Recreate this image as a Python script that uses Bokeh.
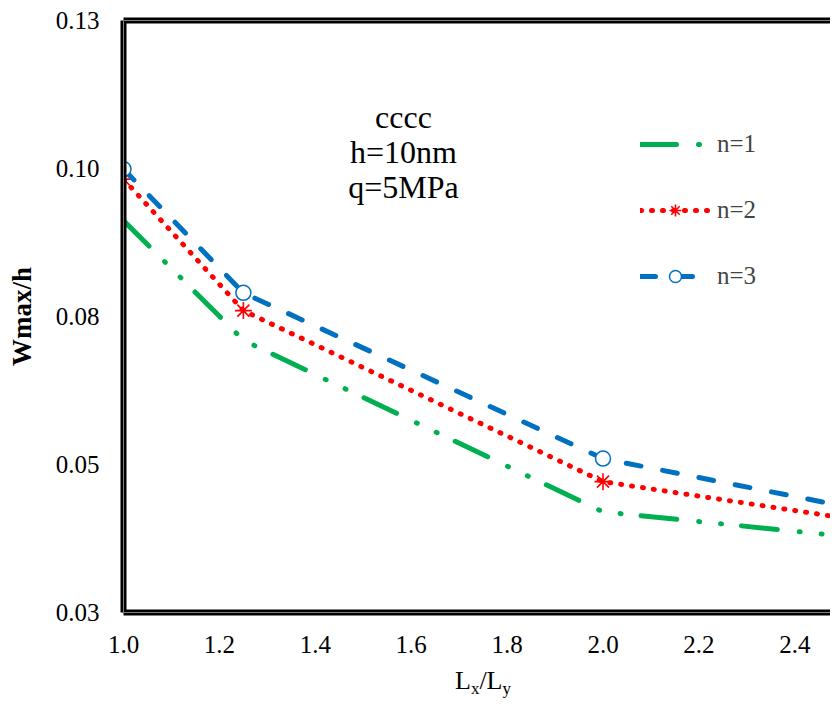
from bokeh.plotting import figure
from bokeh.layouts import column
from bokeh.models import (LinearAxis, FixedTicker, Span, Legend, LegendItem, Label,
                          Range1d, NumeralTickFormatter, Div)
from bokeh.embed import file_html
from bokeh.resources import INLINE

# ---- data ----
ratio = [1.0, 1.25, 2.0, 2.5]
w_n1 = [0.0962, 0.0760, 0.0470, 0.0429]
w_n2 = [0.1032, 0.0810, 0.0521, 0.0460]
w_n3 = [0.1049, 0.0840, 0.0560, 0.0480]
series_names = ["n=1", "n=2", "n=3"]

x_ticks = [1.0, 1.2, 1.4, 1.6, 1.8, 2.0, 2.2, 2.4]
y_ticks = [0.03, 0.055, 0.08, 0.105, 0.13]
y_tick_labels = ["0.03", "0.05", "0.08", "0.10", "0.13"]
note_lines = ["cccc", "h=10nm", "q=5MPa"]
x_title = ("L", "x", "/L", "y")

FONT = "Liberation Serif"
GREEN, RED, BLUE = "#00B050", "#FF0000", "#0070C0"

W, H = 830, 662
BL, BR, BT, BB = 123, 0, 20, 50
FW, FH = W - BL - BR, H - BT - BB
X0 = 1.0
X1 = X0 + FW / 479.5          # same horizontal scale as the reference
Y0, Y1 = 0.03, 0.13

def px2x(px):  # figure pixel -> data x (text placement only)
    return X0 + (px - BL) / FW * (X1 - X0)

def py2y(py):
    return Y0 + (BT + FH - py) / FH * (Y1 - Y0)

def ry(ref_y):  # reference pixel row (inside frame) -> this figure's row
    return BT + (ref_y - 21.7) * FH / 605.3

p = figure(width=W, height=H, x_range=Range1d(X0, X1), y_range=Range1d(Y0, Y1),
           output_backend="svg", toolbar_location=None,
           min_border_left=BL, min_border_right=BR, min_border_top=BT, min_border_bottom=BB)
p.outline_line_color = None
p.grid.visible = False
p.background_fill_color = "white"
p.border_fill_color = "white"

for ax in (p.xaxis[0], p.yaxis[0]):
    ax.axis_line_width = 6
    ax.axis_line_color = "black"
    ax.major_tick_line_color = None
    ax.minor_tick_line_color = None
    ax.major_tick_out = 0
    ax.major_tick_in = 0
    ax.major_label_text_font = FONT
    ax.major_label_text_font_size = "25px"
    ax.major_label_text_color = "black"

p.xaxis.ticker = FixedTicker(ticks=x_ticks)
p.xaxis.formatter = NumeralTickFormatter(format="0.0")
p.xaxis.major_label_standoff = 23

p.yaxis.ticker = FixedTicker(ticks=y_ticks)
p.yaxis.major_label_overrides = {t: l for t, l in zip(y_ticks, y_tick_labels)}
p.yaxis.major_label_standoff = 24
p.yaxis.axis_label = "Wmax/h"
p.yaxis.axis_label_text_font = FONT
p.yaxis.axis_label_text_font_style = "bold"
p.yaxis.axis_label_text_font_size = "27px"
p.yaxis.axis_label_text_color = "black"
p.yaxis.axis_label_standoff = 16

top = LinearAxis(ticker=FixedTicker(ticks=[]), axis_line_width=6, axis_line_color="black",
                 major_tick_line_color=None, minor_tick_line_color=None,
                 major_label_text_font_size="0px", major_tick_out=0, major_tick_in=0)
p.add_layout(top, "above")

# double-line effect of the frame
p.add_layout(Span(location=X0, dimension="height", line_color="white", line_width=1))
p.add_layout(Span(location=Y0, dimension="width", line_color="white", line_width=1))
p.add_layout(Span(location=Y1, dimension="width", line_color="white", line_width=1))

r1 = p.line(ratio, w_n1, line_color=GREEN, line_width=5, line_dash="36 22 1 21 1 20",
            line_cap="round")
r2 = p.line(ratio, w_n2, line_color=RED, line_width=5, line_dash="1 10", line_cap="round")
m2 = p.scatter(ratio, w_n2, marker="asterisk", size=17, line_color=RED, line_width=1.6)
r3 = p.line(ratio, w_n3, line_color=BLUE, line_width=5, line_dash="15 22", line_cap="round")
m3 = p.scatter(ratio, w_n3, marker="circle", size=15, line_color=BLUE, line_width=1.5,
               fill_color="white")

item_h, item_gap = 30, 36
legend_bottom = ry(283.3) + item_h / 2
legend = Legend(items=[LegendItem(label=series_names[0], renderers=[r1]),
                       LegendItem(label=series_names[1], renderers=[r2, m2]),
                       LegendItem(label=series_names[2], renderers=[r3, m3])],
                location=(640 - BL, round(BT + FH - legend_bottom)),
                padding=0, margin=0, spacing=item_gap,
                glyph_width=70, glyph_height=item_h, label_height=item_h, label_standoff=7,
                label_text_font=FONT, label_text_font_size="25px",
                label_text_baseline="middle",
                border_line_color=None, background_fill_alpha=0)
p.add_layout(legend)

# annotation text
for txt, ref_py in zip(note_lines, [120, 156.5, 191.5]):
    p.add_layout(Label(x=px2x(403), y=py2y(ry(ref_py)), text=txt, text_align="center",
                       text_baseline="alphabetic", text_font=FONT, text_font_size="32px",
                       text_color="black"))

# x axis title with subscripts (HTML text below the figure)
sub = 'font-size:17px;vertical-align:-5px'
title_html = (
    '<div style="position:relative;width:830px;height:37px;">'
    '<span style="position:absolute;left:455px;top:6px;font-family:\'Liberation Serif\';'
    'font-size:26px;line-height:25px;color:black;white-space:nowrap">'
    f'{x_title[0]}<span style="{sub}">{x_title[1]}</span>{x_title[2]}'
    f'<span style="{sub}">{x_title[3]}</span></span></div>')
div = Div(text=title_html, width=W, height=37, margin=0)

layout = column(p, div, spacing=0)
open("out.html", "w").write(file_html(layout, INLINE))
